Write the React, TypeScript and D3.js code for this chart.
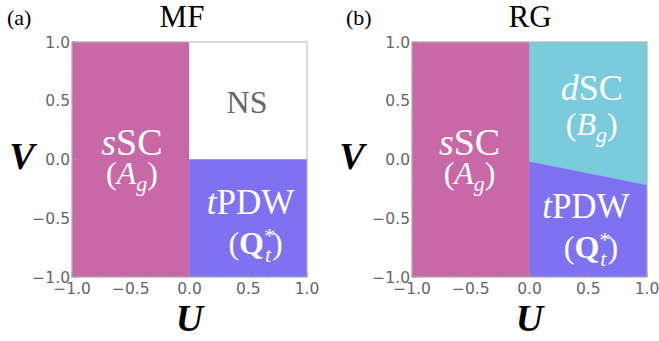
import React, { useEffect } from "react";
import * as d3 from "d3";

// phase regions, polygons in (U, V)
const mfSSC: [number, number][] = [[-1, -1], [0, -1], [0, 1], [-1, 1]];
const mfNS: [number, number][] = [[0, 0], [1, 0], [1, 1], [0, 1]];
const mfTPDW: [number, number][] = [[0, -1], [1, -1], [1, 0], [0, 0]];

const rgSSC: [number, number][] = [[-1, -1], [0, -1], [0, 1], [-1, 1]];
const rgDSC: [number, number][] = [[0, -0.02], [1, -0.22], [1, 1], [0, 1]];
const rgTPDW: [number, number][] = [[0, -1], [1, -1], [1, -0.22], [0, -0.02]];

const majorTicks = [-1, -0.5, 0, 0.5, 1];
const tickLabels = ["\u22121.0", "\u22120.5", "0.0", "0.5", "1.0"];

const SERIF = "Liberation Serif, Times New Roman, Times, serif";
const SANS = "DejaVu Sans, Verdana, sans-serif";

const PINK = "#c968a6";
const PURPLE = "#7e72f2";
const CYAN = "#7acbdb";

type Region = { pts: [number, number][]; color: string };

function Frame({ x, y }: { x: d3.ScaleLinear<number, number>; y: d3.ScaleLinear<number, number> }) {
  const minor = x.ticks(20);
  const [x0, x1] = x.range();
  const [y0, y1] = y.range();
  return (
    <g>
      <rect x={x0} y={y1} width={x1 - x0} height={y0 - y1} fill="none" stroke="#b4b4b4" strokeWidth={1} />
      {minor.map((t, i) => {
        const major = majorTicks.some((m) => Math.abs(m - t) < 1e-6);
        const len = major ? 5 : 3;
        return (
          <g key={i} stroke="#999" strokeWidth={0.8}>
            <line x1={x(t)} x2={x(t)} y1={y0} y2={y0 - len} />
            <line x1={x0} x2={x0 + len} y1={y(t)} y2={y(t)} />
          </g>
        );
      })}
      {majorTicks.map((t, i) => (
        <text key={"x" + i} x={x(t)} y={294} textAnchor="middle" style={{ fontFamily: SANS }} fontSize={15.5} fill="#666">
          {tickLabels[i]}
        </text>
      ))}
      {majorTicks.map((t, i) => (
        <text key={"y" + i} x={x0 - 2} y={y(t) + 5.5} textAnchor="end" style={{ fontFamily: SANS }} fontSize={15.5} fill="#666">
          {tickLabels[i]}
        </text>
      ))}
    </g>
  );
}

function Panel({ left, regions, title, titleX, tag, tagX, vX, children }: any) {
  const x = d3.scaleLinear().domain([-1, 1]).range([left, left + 235]);
  const y = d3.scaleLinear().domain([-1, 1]).range([277, 42]);
  const line = d3.line<[number, number]>().x((d) => x(d[0])).y((d) => y(d[1]));
  return (
    <g>
      {(regions as Region[]).map((r, i) => (
        <path key={i} d={line(r.pts) + "Z"} fill={r.color} stroke={r.color} strokeWidth={0.5} />
      ))}
      <Frame x={x} y={y} />
      <text x={titleX} y={27} textAnchor="middle" style={{ fontFamily: SERIF }} fontSize={31}>{title}</text>
      <text x={tagX} y={25} style={{ fontFamily: SERIF }} fontSize={22}>{tag}</text>
      <text x={vX} y={169} textAnchor="middle" style={{ fontFamily: SERIF }} fontStyle="italic" fontWeight="bold" fontSize={38}>V</text>
      <text x={x(0)} y={331} textAnchor="middle" style={{ fontFamily: SERIF }} fontStyle="italic" fontWeight="bold" fontSize={38}>U</text>
      {children(x, y)}
    </g>
  );
}

function SSC({ cx, y1, y2 }: { cx: number; y1: number; y2: number }) {
  return (
    <g fill="#fff" style={{ fontFamily: SERIF }} textAnchor="middle">
      <text x={cx} y={y1} fontSize={38}><tspan fontStyle="italic">s</tspan>SC</text>
      <text x={cx} y={y2} fontSize={32}>(<tspan fontStyle="italic">A</tspan><tspan fontStyle="italic" fontSize={22} dy={7}>g</tspan><tspan dy={-7}>)</tspan></text>
    </g>
  );
}

function TPDW({ cx, y1, y2 }: { cx: number; y1: number; y2: number }) {
  return (
    <g fill="#fff" style={{ fontFamily: SERIF }} textAnchor="middle">
      <text x={cx} y={y1} fontSize={35}><tspan fontStyle="italic">t</tspan>PDW</text>
      <text x={cx + 5} y={y2} fontSize={32}>(<tspan fontWeight="bold">Q</tspan><tspan fontSize={22} dy={-11}>*</tspan><tspan fontSize={22} fontStyle="italic" dx={-10} dy={19}>t</tspan><tspan dx={1} dy={-8}>)</tspan></text>
    </g>
  );
}

export default function App() {
  useEffect(() => {
    document.body.style.margin = "0";
  }, []);

  return (
    <svg width={659} height={341} style={{ display: "block", background: "#fff" }}>
      <Panel
        left={72}
        regions={[
          { pts: mfSSC, color: PINK },
          { pts: mfNS, color: "#fff" },
          { pts: mfTPDW, color: PURPLE },
        ]}
        title="MF"
        titleX={182}
        tag="(a)"
        tagX={7}
        vX={22}
      >
        {(x: any, y: any) => (
          <g>
            <SSC cx={x(-0.49)} y1={y(0.04)} y2={y(-0.21)} />
            <text x={x(0.49)} y={y(0.4)} textAnchor="middle" style={{ fontFamily: SERIF }} fontSize={32} fill="#666">NS</text>
            <TPDW cx={x(0.52)} y1={y(-0.46)} y2={y(-0.8)} />
          </g>
        )}
      </Panel>
      <Panel
        left={412}
        regions={[
          { pts: rgSSC, color: PINK },
          { pts: rgDSC, color: CYAN },
          { pts: rgTPDW, color: PURPLE },
        ]}
        title="RG"
        titleX={530}
        tag="(b)"
        tagX={346}
        vX={352}
      >
        {(x: any, y: any) => (
          <g>
            <SSC cx={x(-0.51)} y1={y(0.04)} y2={y(-0.21)} />
            <g fill="#fff" style={{ fontFamily: SERIF }} textAnchor="middle">
              <text x={x(0.53)} y={y(0.51)} fontSize={36}><tspan fontStyle="italic">d</tspan>SC</text>
              <text x={x(0.53)} y={y(0.21)} fontSize={32}>(<tspan fontStyle="italic">B</tspan><tspan fontStyle="italic" fontSize={22} dy={7}>g</tspan><tspan dy={-7}>)</tspan></text>
            </g>
            <TPDW cx={x(0.48)} y1={y(-0.5)} y2={y(-0.84)} />
          </g>
        )}
      </Panel>
    </svg>
  );
}
